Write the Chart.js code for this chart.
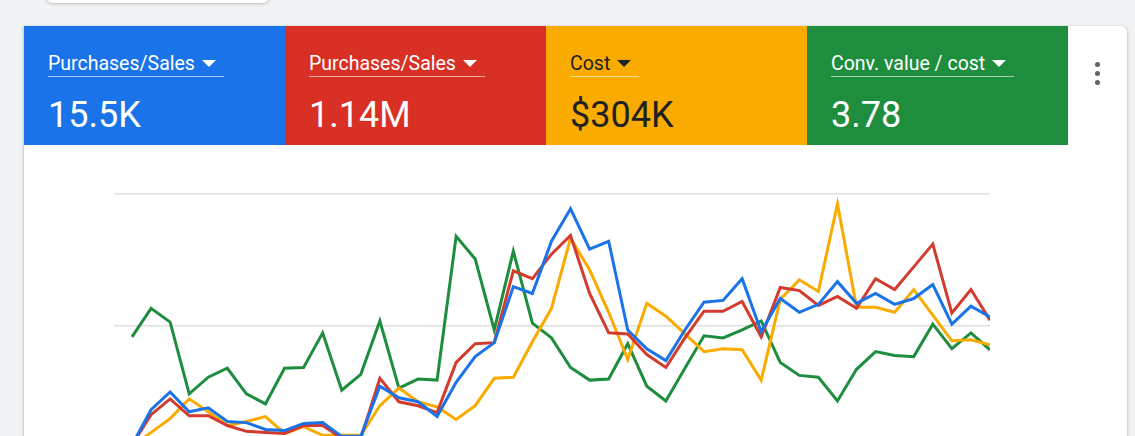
<!DOCTYPE html>
<html lang="en">
<head>
    <meta charset="UTF-8">
    <title>Performance overview</title>
    <script src="https://cdn.jsdelivr.net/npm/chart.js"></script>
    <style>
        body { margin: 0; width: 1135px; height: 436px; overflow: hidden; background: #f1f3f4; font-family: Roboto, "Noto Sans", sans-serif; position: relative; }
        .pill { position: absolute; left: 45px; top: -12px; width: 225px; height: 15px; background: #fff; border-radius: 0 0 8px 8px; box-shadow: 0 1px 3px rgba(60,64,67,.3); }
        .card { position: absolute; left: 24px; top: 26px; width: 1103px; height: 480px; background: #fff; border-radius: 0 6px 0 0; box-shadow: 0 1px 2px rgba(60,64,67,.3), 0 1px 3px 1px rgba(60,64,67,.15); overflow: hidden; }
        .tile { position: absolute; top: 0; width: 261px; height: 119px; color: #fff; }
        .tile .title { position: absolute; left: 24px; top: 28px; font-size: 19.5px; line-height: 19px; padding-bottom: 3px; border-bottom: 1px solid rgba(255,255,255,.6); white-space: nowrap; }
        .tile .arrow { display: inline-block; width: 0; height: 0; margin: 0 8px 3px 7px; border-left: 7px solid transparent; border-right: 7px solid transparent; border-top: 7px solid currentColor; vertical-align: middle; }
        .tile .value { position: absolute; left: 24px; top: 71px; font-size: 36px; line-height: 36px; white-space: nowrap; }
        .dots { position: absolute; left: 1071px; top: 36px; }
        .dots i { display: block; width: 5px; height: 5px; border-radius: 50%; background: #5f6368; margin-bottom: 4px; }
        .plot { position: absolute; left: 80px; top: 156px; width: 896px; height: 290px; }
    </style>
</head>
<body>
    <div class="pill"></div>
    <div class="card">
        <div class="tile" style="left:0;background:#1a73e8"><div class="title">Purchases/Sales<span class="arrow"></span></div><div class="value">15.5K</div></div>
        <div class="tile" style="left:261px;background:#d93025"><div class="title">Purchases/Sales<span class="arrow"></span></div><div class="value">1.14M</div></div>
        <div class="tile" style="left:522px;background:#f9ab00;color:#202124"><div class="title">Cost<span class="arrow"></span></div><div class="value">$304K</div></div>
        <div class="tile" style="left:783px;background:#1e8e3e"><div class="title">Conv. value / cost<span class="arrow"></span></div><div class="value">3.78</div></div>
        <div class="dots"><i></i><i></i><i></i></div>
        <div class="plot"><canvas id="perfChart"></canvas></div>
    </div>
    <script>
        // 46 days, values on a shared 0-100 relative scale (no axis labels shown)
        const days = Array.from({ length: 46 }, (_, i) => 'Day ' + (i + 1));

        const purchases = [4.9, 18.3, 25.0, 17.5, 19.0, 13.8, 13.4, 10.8, 10.4, 13.1, 13.4, 8.2, 8.2, 27.2, 22.8, 21.3,
            15.7, 28.7, 38.4, 43.7, 64.9, 62.3, 82.1, 94.4, 79.1, 82.1, 48.5, 41.4, 36.9, 48.5, 59.0, 59.7,
            67.9, 47.8, 60.4, 55.2, 58.2, 66.8, 58.6, 62.3, 58.2, 60.4, 65.7, 50.7, 57.5, 53.4];

        const salesValue = [4.9, 16.4, 22.4, 16.0, 16.0, 12.3, 10.1, 9.7, 9.3, 12.3, 12.3, 7.5, 7.5, 30.2, 21.3, 19.8,
            17.2, 36.2, 43.3, 43.7, 70.9, 67.9, 77.2, 84.3, 62.3, 47.4, 47.0, 39.2, 34.3, 45.5, 55.6, 55.6,
            59.3, 45.9, 64.6, 63.4, 57.8, 61.2, 56.7, 67.9, 63.8, 72.4, 81.0, 54.9, 63.8, 52.2];

        const cost = [4.5, 9.7, 14.9, 22.4, 17.5, 12.3, 13.8, 15.7, 9.3, 11.9, 8.6, 8.6, 8.6, 19.8, 26.5, 21.3,
            19.4, 14.6, 19.8, 30.2, 30.6, 44.0, 56.7, 83.2, 71.3, 55.2, 37.3, 58.6, 53.7, 47.0, 40.3, 41.4,
            41.0, 29.5, 60.1, 67.5, 63.1, 96.3, 57.1, 57.1, 55.2, 63.8, 54.1, 44.4, 44.8, 42.9];

        const roas = [45.9, 56.7, 51.5, 24.3, 30.6, 34.0, 24.3, 20.5, 34.0, 34.3, 47.4, 25.7, 31.7, 51.9, 26.5, 29.9,
            29.5, 84.0, 75.4, 48.5, 78.4, 51.1, 45.5, 34.3, 29.5, 29.9, 43.3, 27.2, 21.6, 34.0, 46.3, 45.5,
            48.5, 51.9, 36.2, 31.3, 30.6, 21.6, 33.6, 40.3, 38.8, 38.4, 50.7, 41.4, 47.4, 41.0];

        const gridTicks = [0, 50, 100];

        const series = [
            { label: 'Purchases/Sales', values: purchases, color: '#1a73e8' },
            { label: 'Purchases/Sales value', values: salesValue, color: '#d33b2f' },
            { label: 'Cost', values: cost, color: '#f9ab00' },
            { label: 'Conv. value / cost', values: roas, color: '#1e8e3e' }
        ];

        new Chart(document.getElementById('perfChart'), {
            type: 'line',
            data: {
                datasets: series.map(s => ({
                    label: s.label,
                    data: s.values.map((v, i) => ({ x: i, y: v })),
                    borderColor: s.color,
                    borderWidth: 3,
                    pointRadius: 0,
                    tension: 0,
                    fill: false
                }))
            },
            options: {
                responsive: true,
                maintainAspectRatio: false,
                animation: false,
                layout: { padding: { left: 10, right: 10, top: 12, bottom: 14 } },
                plugins: { legend: { display: false }, tooltip: { enabled: false } },
                scales: {
                    x: { type: 'linear', min: -0.944, max: days.length - 1, display: false },
                    y: {
                        min: gridTicks[0], max: gridTicks[gridTicks.length - 1],
                        afterBuildTicks: s => { s.ticks = gridTicks.map(v => ({ value: v })); },
                        afterFit: s => { s.width = 0; },
                        ticks: { display: false },
                        border: { display: false },
                        grid: { color: '#e0e0e0', lineWidth: 1.5, drawTicks: false }
                    }
                }
            }
        });
    </script>
</body>
</html>
